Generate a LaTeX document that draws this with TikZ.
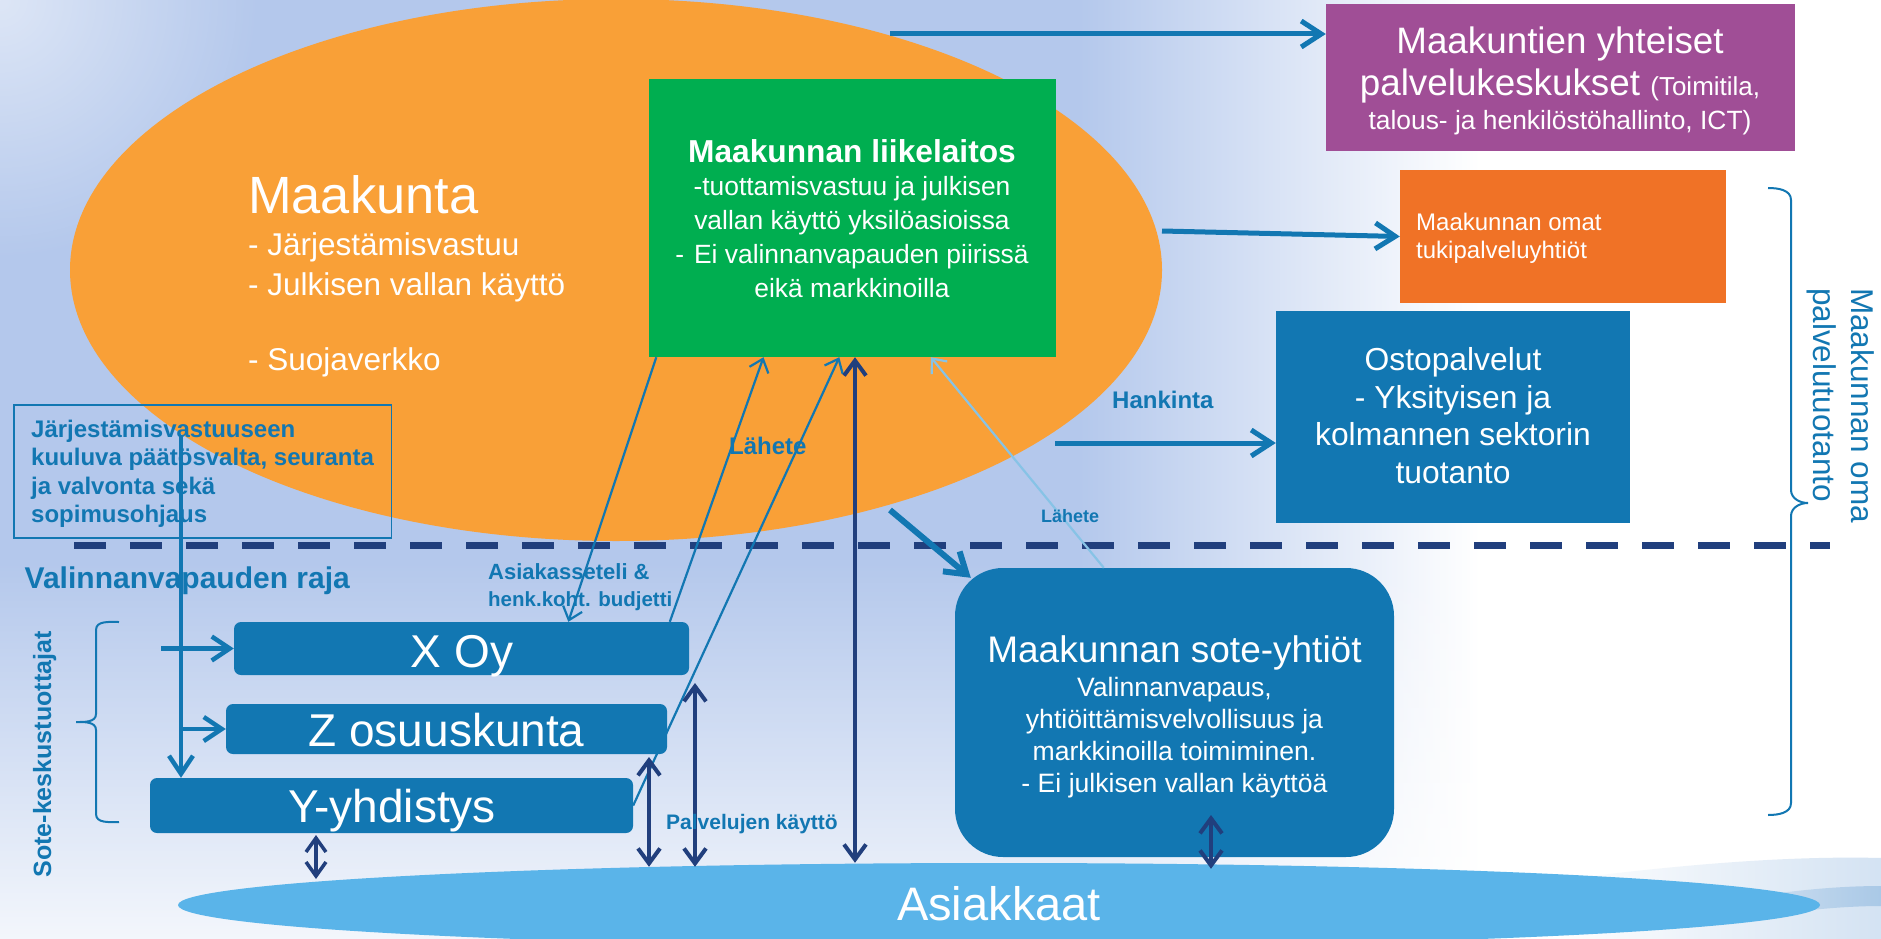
\documentclass[tikz,border=0pt]{standalone}
\usepackage{fontspec}
\setmainfont{Liberation Sans}
\usetikzlibrary{arrows.meta,shapes.geometric,fadings}
\definecolor{bgb}{RGB}{180,200,236}
\definecolor{orng}{RGB}{249,160,55}
\definecolor{grn}{RGB}{0,174,80}
\definecolor{purp}{RGB}{160,78,150}
\definecolor{orbox}{RGB}{240,114,38}
\definecolor{bbox}{RGB}{18,119,178}
\definecolor{navy}{RGB}{33,63,125}
\definecolor{lblue}{RGB}{90,180,233}
\definecolor{larrow}{RGB}{135,195,230}
\definecolor{swa}{RGB}{212,227,243}
\definecolor{swb}{RGB}{160,195,228}
\tikzfading[name=cornerfade, inner color=transparent!0, outer color=transparent!100]
\newcommand\fsz[2]{\fontsize{#1}{#2}\selectfont}
\begin{document}
\begin{tikzpicture}[x=1pt,y=-1pt,
  box/.style={rectangle, inner sep=0pt},
  txt/.style={inner sep=0pt, text=white},
  lbl/.style={inner sep=0pt, text=bbox},
  thickarr/.style={draw=bbox, line width=5pt, -{Straight Barb[length=20pt,width=26pt]}},
  thinarr/.style={draw=bbox, line width=2.2pt, -{Straight Barb[length=12pt,width=20pt]}},
  navyarr/.style={draw=navy, line width=4pt, {Straight Barb[length=15pt,width=22pt]}-{Straight Barb[length=15pt,width=22pt]}},
  dashline/.style={draw=navy, line width=7pt, dash pattern=on 32pt off 24pt},
  bracestyle/.style={draw=bbox, line width=2pt}
]
\useasboundingbox (0,0) rectangle (1881,939);
% background
\begin{scope}
\clip (0,0) rectangle (1881,939);
\fill[white] (0,0) rectangle (1881,939);
\fill[bgb] (0,0) rectangle (1080,939);
\shade[left color=bgb, right color=white] (1079,0) rectangle (1480,939);
\fill[white, opacity=0.85, path fading=north] (0,560) rectangle (1480,939);
\fill[white, opacity=0.55, path fading=cornerfade] (0,0) circle (260);
% bottom-right swirl
\fill[swa, path fading=west] (1560,880) .. controls (1700,862) and (1800,856) .. (1881,858) -- (1881,939) -- (1560,939) -- cycle;
\fill[swb, opacity=0.8, path fading=west] (1690,908) .. controls (1770,892) and (1830,886) .. (1881,886) -- (1881,906) .. controls (1830,906) and (1770,914) .. (1690,926) -- cycle;
\end{scope}

% main shapes
\node (maak) [ellipse, fill=orng, minimum width=1092pt, minimum height=542pt, inner sep=0pt] at (616,270) {};
\node (asi) [ellipse, fill=lblue, minimum width=1642pt, minimum height=84pt, inner sep=0pt] at (999,905) {};
\node (liik) [box, fill=grn, minimum width=407pt, minimum height=278pt] at (852.5,218) {};
\node (purp) [box, fill=purp, minimum width=469pt, minimum height=147pt] at (1560.5,77.5) {};
\node (orb) [box, fill=orbox, minimum width=326pt, minimum height=133pt] at (1563,236.5) {};
\node (ost) [box, fill=bbox, minimum width=354pt, minimum height=212pt] at (1453,417) {};
\node (sote) [box, fill=bbox, rounded corners=48pt, minimum width=439pt, minimum height=289pt] at (1174.5,712.5) {};
\node (xoy) [box, fill=bbox, rounded corners=7pt, minimum width=455pt, minimum height=53pt] at (461.5,648.5) {};
\node (zos) [box, fill=bbox, rounded corners=7pt, minimum width=441pt, minimum height=50pt] at (446.5,729) {};
\node (yy) [box, fill=bbox, rounded corners=7pt, minimum width=483pt, minimum height=55pt] at (391.5,805.5) {};
\node (jarj) [box, draw=bbox, line width=1.5pt, minimum width=377.5pt, minimum height=133pt] at (202.75,471.5) {};

% dashed border line
\coordinate (d1) at (74,545);
\coordinate (d2) at (1830,545);
\draw[dashline] (d1) -- (d2);

% braces
\draw[bracestyle] (1768,188) to[out=0,in=90] (1791,200) -- (1791,490) to[out=-90,in=180] (1808,503) to[out=180,in=90] (1791,516) -- (1791,803) to[out=-90,in=0] (1768,815);
\draw[bracestyle] (119,622) to[out=180,in=90] (96,630) -- (96,714) to[out=-90,in=0] (76,722) to[out=0,in=90] (96,730) -- (96,814) to[out=-90,in=180] (119,822);

% arrows to the right
\coordinate (a1) at (890,34);
\draw[thickarr] (a1) -- (a1 -| purp.west);
\coordinate (a2) at (1162,231);
\draw[thickarr] (a2) -- (orb.west);
\coordinate (a3) at (1055,443);
\draw[thickarr] (a3) -- (a3 -| ost.west);
\coordinate (a4) at (890,510);
\draw[thickarr, line width=6pt] (a4) -- ([xshift=16pt,yshift=-10pt]sote.north west);

% referral arrows
\draw[thinarr, draw=larrow] ([xshift=149pt]sote.north west) -- ([xshift=282pt]liik.south west);
\draw[thinarr] ([xshift=7.5pt]liik.south west) -- ([xshift=334.5pt]xoy.north west);
\draw[thinarr] ([xshift=436pt]xoy.north west) -- ([xshift=114.7pt]liik.south west);
\draw[thinarr] (yy.east) -- ([xshift=190.5pt]liik.south west);

% governance arrows
\coordinate (jtop) at (181,435);
\coordinate (xst) at (161,648.5);
\draw[draw=bbox, line width=4.5pt, -{Straight Barb[length=18pt,width=24pt]}] (jtop) -- (jtop |- yy.north);
\draw[draw=bbox, line width=4.5pt, -{Straight Barb[length=18pt,width=24pt]}] (xst) -- (xoy.west);
\draw[draw=bbox, line width=4.5pt, -{Straight Barb[length=18pt,width=24pt]}] (jtop |- zos.west) -- (zos.west);

% service use arrows
\draw[navyarr] ([xshift=2.5pt]liik.south) -- ([xshift=2.5pt]liik.south |- asi.north);
\coordinate (xb) at (695,683);
\draw[navyarr, shorten >=-4pt] (xb) -- (xb |- asi.north);
\coordinate (zb) at (649,757);
\draw[navyarr, shorten >=-4pt] (zb) -- (zb |- asi.north);
\coordinate (yb) at (316,835);
\coordinate (ya) at (316,879);
\draw[navyarr, line width=3.5pt, {Straight Barb[length=14pt,width=20pt]}-{Straight Barb[length=14pt,width=20pt]}] (yb) -- (ya);
\coordinate (sb) at (1211,815);
\draw[navyarr, shorten >=-6pt] (sb) -- (sb |- asi.north);

% texts (multi-line nodes: base anchor = last line)
\node (maakT) [txt, anchor=base west, font=\fsz{52.4}{60}] at (248,213) {Maakunta};
\node (maakL) [txt, anchor=base west, align=left, font=\fsz{31.5}{40}] at (248,370) {- Järjestämisvastuu\\- Julkisen vallan käyttö\\[35pt]- Suojaverkko};
\node (liikT) [txt, anchor=base, font=\fsz{31.7}{36}\bfseries] at (852,162) {Maakunnan liikelaitos};
\node (liikL) [txt, anchor=base, align=center, font=\fsz{26.4}{34}] at (852,297) {-tuottamisvastuu ja julkisen\\vallan käyttö yksilöasioissa\\-\hspace{10pt}Ei valinnanvapauden piirissä\\eikä markkinoilla};
\node (purpT) [txt, anchor=base, align=center, font=\fsz{36.8}{42}] at (1560,130) {Maakuntien yhteiset\\palvelukeskukset {\fsz{26}{30}(Toimitila,}\\[-7pt]{\fsz{26.4}{30}talous- ja henkilöstöhallinto, ICT)}};
\node (orbT) [txt, anchor=base west, align=left, font=\fsz{24}{28}] at (1416,258) {Maakunnan omat\\tukipalveluyhtiöt};
\node (ostT) [txt, anchor=base, align=center, font=\fsz{31.8}{37.4}] at (1453,483) {Ostopalvelut\\- Yksityisen ja\\kolmannen sektorin\\tuotanto};
\node (soteT) [txt, anchor=base, font=\fsz{37}{40}] at (1174.5,662) {Maakunnan sote-yhtiöt};
\node (soteL) [txt, anchor=base, align=center, font=\fsz{26.6}{31.7}] at (1174.5,792) {Valinnanvapaus,\\yhtiöittämisvelvollisuus ja\\markkinoilla toimiminen.\\- Ei julkisen vallan käyttöä};
\node (xoyT) [txt, anchor=base, font=\fsz{46}{50}] at (462,667) {X Oy};
\node (zosT) [txt, anchor=base, font=\fsz{46}{50}] at (446.5,746) {Z osuuskunta};
\node (yyT) [txt, anchor=base, font=\fsz{46}{50}] at (392,822) {Y-yhdistys};
\node (asiT) [txt, anchor=base, font=\fsz{47}{50}] at (999,920) {Asiakkaat};
\node (jarjT) [lbl, anchor=base west, align=left, font=\fsz{24}{28.5}\bfseries] at (31,522.5) {Järjestämisvastuuseen\\kuuluva päätösvalta, seuranta\\ja valvonta sekä\\sopimusohjaus};
\node (valT) [lbl, anchor=base west, font=\fsz{30}{34}\bfseries] at (24.5,588) {Valinnanvapauden raja};
\node (hankT) [lbl, anchor=base west, font=\fsz{24}{28}\bfseries] at (1112,408) {Hankinta};
\node (lah1) [lbl, anchor=base west, font=\fsz{24}{28}\bfseries] at (729,454) {Lähete};
\node (lah2) [lbl, anchor=base west, font=\fsz{18}{22}\bfseries] at (1041,522) {Lähete};
\node (asiakT) [lbl, anchor=base west, font=\fsz{22}{26}\bfseries] at (488,579) {Asiakasseteli \&};
\node (henkT) [lbl, anchor=base west, font=\fsz{20.5}{24}\bfseries] at (488,606) {henk.koht. budjetti};
\node (palvT) [lbl, anchor=base west, font=\fsz{21}{24}\bfseries] at (666,829) {Palvelujen käyttö};
\node (soteK) [lbl, anchor=base, rotate=90, font=\fsz{25}{28}\bfseries] at (51,754.5) {Sote-keskustuottajat};
\node (mopT) [lbl, anchor=base west, rotate=-90, align=left, font=\fsz{31.5}{38}] at (1813,288) {Maakunnan oma\\palvelutuotanto};
\end{tikzpicture}
\end{document}
